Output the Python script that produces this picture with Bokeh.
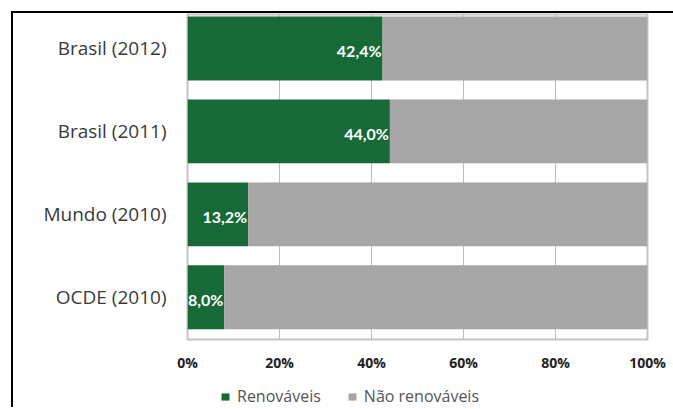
from bokeh.plotting import figure
from bokeh.models import Range1d, FixedTicker, Legend, LegendItem, ColumnDataSource
from bokeh.layouts import column
from bokeh.core.properties import value
from bokeh.embed import file_html
from bokeh.resources import INLINE

categories = ["Brasil (2012)", "Brasil (2011)", "Mundo (2010)", "OCDE (2010)"]
renovaveis = [42.4, 44.0, 13.2, 8.0]
nao_renovaveis = [57.6, 56.0, 86.8, 92.0]
bar_labels = ["42,4%", "44,0%", "13,2%", "8,0%"]
x_ticks = [0, 20, 40, 60, 80, 100]
x_tick_labels = ["0%", "20%", "40%", "60%", "80%", "100%"]
series_names = ["Renováveis", "Não renováveis"]

GREEN = "#176937"
GRAY = "#a6a6a6"

pos = list(range(len(categories)))
right_non = [r + n for r, n in zip(renovaveis, nao_renovaveis)]

src = ColumnDataSource(dict(y=pos, ren=renovaveis, zero=[0] * len(pos),
                            nl=renovaveis, nr=right_non, lab=bar_labels))

p = figure(width=660, height=364, output_backend="svg", toolbar_location=None,
           x_range=Range1d(0, 100), y_range=Range1d(3.51, -0.41),
           min_border_left=174, min_border_top=1, min_border_right=26, min_border_bottom=38)

p.background_fill_color = "white"
p.border_fill_color = "white"
p.outline_line_color = "#c4c4c4"
p.outline_line_width = 2

p.ygrid.grid_line_color = None
p.xgrid.grid_line_color = "#bdbdbd"
p.xgrid.grid_line_width = 1
p.xgrid.ticker = FixedTicker(ticks=x_ticks)

p.hbar(y="y", left="zero", right="ren", height=0.77, source=src,
       fill_color=GREEN, line_color=None)
p.hbar(y="y", left="nl", right="nr", height=0.77, source=src,
       fill_color=GRAY, line_color=None)

p.text(x="ren", y="y", text="lab", source=src, text_align="right",
       text_baseline="middle", x_offset=-1, y_offset=2,
       text_color="white", text_font=value("Lato"), text_font_size="16px",
       text_font_style="bold")

p.xaxis.ticker = FixedTicker(ticks=x_ticks)
p.xaxis.major_label_overrides = {t: l for t, l in zip(x_ticks, x_tick_labels)}
p.xaxis.axis_line_color = None
p.xaxis.major_tick_line_color = None
p.xaxis.minor_tick_line_color = None
p.xaxis.major_label_standoff = 7
p.xaxis.major_label_text_font = "Open Sans"
p.xaxis.major_label_text_font_size = "14px"
p.xaxis.major_label_text_font_style = "bold"
p.xaxis.major_label_text_color = "#222222"

p.yaxis.ticker = FixedTicker(ticks=pos)
p.yaxis.major_label_overrides = {i: c for i, c in zip(pos, categories)}
p.yaxis.axis_line_color = None
p.yaxis.major_tick_line_color = None
p.yaxis.minor_tick_line_color = None
p.yaxis.major_label_standoff = 15
p.yaxis.major_label_text_font = "Open Sans"
p.yaxis.major_label_text_font_size = "19px"
p.yaxis.major_label_text_color = "#3a3a3a"

# legend strip below the chart (its frame aligns with the chart's frame)
pl = figure(width=660, height=30, output_backend="svg", toolbar_location=None,
            x_range=Range1d(1000, 1001), y_range=Range1d(1000, 1001),
            x_axis_location=None, y_axis_location=None,
            min_border_left=0, min_border_right=0, min_border_top=0, min_border_bottom=0)
pl.outline_line_color = None
pl.grid.grid_line_color = None
pl.background_fill_color = "white"
pl.border_fill_color = "white"
lr1 = pl.hbar(y="y", left="zero", right="ren", height=0.77, source=src,
              fill_color=GREEN, line_color=None)
lr2 = pl.hbar(y="y", left="nl", right="nr", height=0.77, source=src,
              fill_color=GRAY, line_color=None)
legend = Legend(items=[LegendItem(label=series_names[0], renderers=[lr1]),
                       LegendItem(label=series_names[1], renderers=[lr2])],
                orientation="horizontal", location=(33, 0),
                padding=0, margin=0, spacing=26, label_standoff=7,
                glyph_width=10, glyph_height=9,
                label_text_font="Open Sans", label_text_font_size="16px",
                label_text_color="#555555", border_line_color=None,
                background_fill_alpha=0)
pl.add_layout(legend)

layout = column(p, pl, spacing=0)
layout.styles = {"margin-left": "11px", "margin-top": "11px",
                 "border-left": "2px solid black", "border-top": "2px solid black"}

open("out.html", "w").write(file_html(layout, INLINE))
